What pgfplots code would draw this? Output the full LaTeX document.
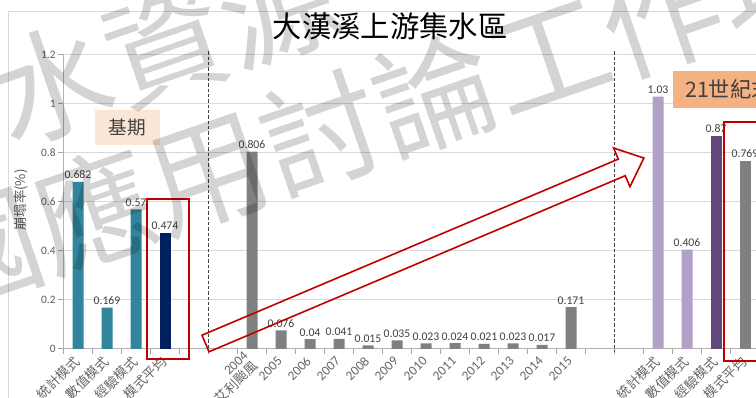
\documentclass[border=0pt]{standalone}
\usepackage{pgfplots}
\pgfplotsset{compat=1.18}
\usepackage{fontspec}
\setmainfont{Carlito}
\newfontfamily\cjk{Noto Sans CJK TC}
\definecolor{teal1}{RGB}{49,133,156}
\definecolor{navy1}{RGB}{0,32,96}
\definecolor{gray1}{RGB}{128,128,128}
\definecolor{lpurple}{RGB}{177,160,199}
\definecolor{dpurple}{RGB}{96,73,122}
\definecolor{red1}{RGB}{192,0,0}
\definecolor{peach}{RGB}{251,229,214}
\definecolor{orange1}{RGB}{244,177,131}
\begin{document}
\begin{tikzpicture}
\useasboundingbox (0,0) rectangle (567pt,298.5pt);
\clip (0,0) rectangle (567pt,298.5pt);
\begin{scope}[x=0.75pt,y=0.75pt]
\draw[black!15, line width=0.75pt] (8,-20) -- (8,386) -- (800,386);
\end{scope}
\begin{axis}[
  at={(47.625pt,36.75pt)}, anchor=south west,
  scale only axis, width=522pt, height=220.5pt,
  xmin=-0.5, xmax=23.5, ymin=0, ymax=1.2,
  clip=false,
  ybar, bar width=8.25pt, bar shift=0pt,
  axis lines*=left,
  axis line style={black!30, line width=0.75pt},
  ymajorgrids, grid style={black!15, line width=0.75pt},
  ytick={0,0.2,0.4,0.6,0.8,1,1.2},
  xtick={0,...,23},
  xticklabels={{\cjk 統計模式},{\cjk 數值模式},{\cjk 經驗模式},{\cjk 模式平均},,,{2004\\\cjk 艾利颱風},2005,2006,2007,2008,2009,2010,2011,2012,2013,2014,2015,,,{\cjk 統計模式},{\cjk 數值模式},{\cjk 經驗模式},{\cjk 模式平均}},
  minor xtick={-0.5,0.5,...,23.5},
  tick align=outside,
  major tick length=3.75pt, minor tick length=3.75pt,
  major x tick style={draw=none},
  minor x tick style={black!35, line width=0.75pt},
  major y tick style={black!35, line width=0.75pt},
  /pgf/number format/assume math mode=true,
  yticklabel style={font=\fontsize{8.5}{10}\selectfont, text=black!65, inner sep=2pt},
  xticklabel shift=3pt,
  xticklabel style={font=\fontsize{10}{10.5}\selectfont, text=black!60, rotate=45, anchor=east, align=right, inner sep=1pt},
  point meta=explicit symbolic,
  nodes near coords,
  every node near coord/.append style={font=\fontsize{8.8}{10}\selectfont, text=black!75, inner sep=2pt},
]
\addplot[fill=teal1, draw=none] coordinates {(0,0.682)[0.682] (1,0.169)[0.169] (2,0.57)[0.57]};
\addplot[fill=navy1, draw=none] coordinates {(3,0.474)[0.474]};
\addplot[fill=gray1, draw=none] coordinates {(6,0.806)[0.806] (7,0.076)[0.076] (8,0.04)[0.04] (9,0.041)[0.041] (10,0.015)[0.015] (11,0.035)[0.035] (12,0.023)[0.023] (13,0.024)[0.024] (14,0.021)[0.021] (15,0.023)[0.023] (16,0.017)[0.017] (17,0.171)[0.171]};
\addplot[fill=lpurple, draw=none] coordinates {(20,1.03)[1.03] (21,0.406)[0.406]};
\addplot[fill=dpurple, draw=none] coordinates {(22,0.87)[0.87]};
\addplot[fill=gray1, draw=none] coordinates {(23,0.769)[0.769]};
\draw[black!75, line width=1pt, dash pattern=on 2.5pt off 1.5pt] (axis cs:4.5,1.215) -- (axis cs:4.5,-0.012);
\draw[black!75, line width=1pt, dash pattern=on 2.5pt off 1.5pt] (axis cs:18.5,1.215) -- (axis cs:18.5,-0.012);
\end{axis}
\begin{scope}[x=0.75pt,y=0.75pt]
\fill[peach] (95,253) rectangle (160,288);
\node[font=\cjk\fontsize{14}{14}\selectfont, text=black!75] at (127.5,270.5) {基期};
\fill[orange1] (673,290) rectangle (800,327);
\node[anchor=west, font=\cjk\fontsize{16}{16}\selectfont, text=black!75, inner sep=0] at (685,308.5) {21世紀末};
\draw[red1, line width=1.5pt] (147,39) rectangle (189,199);
\draw[red1, line width=1.5pt] (724,37) rectangle (800,276);
\begin{scope}[shift={(205.5,54.5)}, rotate=22.93]
\draw[red1, line width=1.2pt, line join=miter] (0,-9) -- (452,-9) -- (452,-21) -- (476,0) -- (452,21) -- (452,9) -- (0,9) -- cycle;
\end{scope}
\node[font=\cjk\fontsize{22}{22}\selectfont] at (390,372) {大漢溪上游集水區};
\node[rotate=90, font=\cjk\fontsize{10}{10}\selectfont, text=black!65] at (21,198) {崩塌率(\%)};
\node[rotate=19, font=\cjk\fontsize{90}{90}\selectfont, text=black, text opacity=0.17, inner sep=0] at (165,353) {水資源};
\node[rotate=19, font=\cjk\fontsize{90}{90}\selectfont, text=black, text opacity=0.17, inner sep=0] at (377.5,285.5) {國應用討論工作坊};
\end{scope}
\end{tikzpicture}
\end{document}
